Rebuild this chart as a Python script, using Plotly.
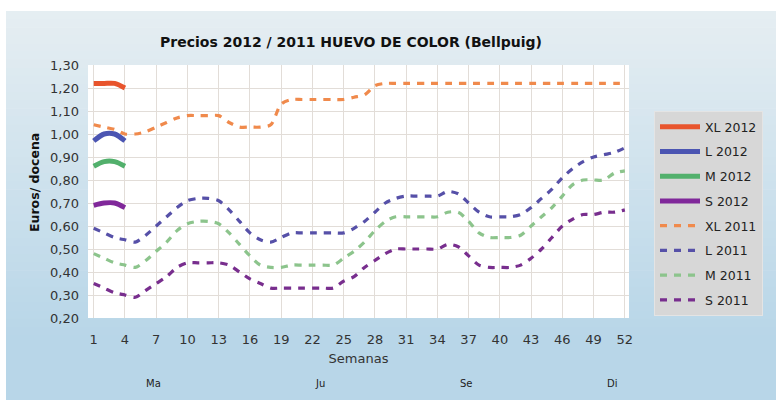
import plotly.graph_objects as go

# ---------------- data ----------------
weeks_2011 = list(range(1, 53))
weeks_2012 = [1, 2, 3, 4]

xl_2012 = [1.22, 1.22, 1.22, 1.20]
l_2012 = [0.97, 1.00, 1.00, 0.97]
m_2012 = [0.86, 0.88, 0.88, 0.86]
s_2012 = [0.69, 0.70, 0.70, 0.68]

xl_2011 = [1.04, 1.03, 1.02, 1.00, 1.00, 1.01, 1.03, 1.05, 1.07, 1.08, 1.08, 1.08, 1.08,
           1.05, 1.03, 1.03, 1.03, 1.04, 1.13, 1.15, 1.15, 1.15, 1.15, 1.15, 1.15, 1.16,
           1.17, 1.21, 1.22, 1.22, 1.22, 1.22, 1.22, 1.22, 1.22, 1.22, 1.22, 1.22, 1.22,
           1.22, 1.22, 1.22, 1.22, 1.22, 1.22, 1.22, 1.22, 1.22, 1.22, 1.22, 1.22, 1.22]
l_2011 = [0.59, 0.57, 0.55, 0.54, 0.53, 0.56, 0.60, 0.64, 0.68, 0.71, 0.72, 0.72, 0.71,
          0.67, 0.62, 0.57, 0.54, 0.53, 0.55, 0.57, 0.57, 0.57, 0.57, 0.57, 0.57, 0.59,
          0.62, 0.66, 0.70, 0.72, 0.73, 0.73, 0.73, 0.73, 0.75, 0.74, 0.70, 0.66, 0.64,
          0.64, 0.64, 0.65, 0.68, 0.72, 0.76, 0.81, 0.85, 0.88, 0.90, 0.91, 0.92, 0.94]
m_2011 = [0.48, 0.46, 0.44, 0.43, 0.42, 0.45, 0.49, 0.53, 0.58, 0.61, 0.62, 0.62, 0.61,
          0.57, 0.52, 0.47, 0.43, 0.42, 0.42, 0.43, 0.43, 0.43, 0.43, 0.43, 0.46, 0.49,
          0.53, 0.58, 0.62, 0.64, 0.64, 0.64, 0.64, 0.64, 0.66, 0.66, 0.62, 0.57, 0.55,
          0.55, 0.55, 0.56, 0.60, 0.64, 0.68, 0.73, 0.78, 0.80, 0.80, 0.80, 0.83, 0.84]
s_2011 = [0.35, 0.33, 0.31, 0.30, 0.29, 0.32, 0.35, 0.38, 0.42, 0.44, 0.44, 0.44, 0.44,
          0.43, 0.40, 0.37, 0.35, 0.33, 0.33, 0.33, 0.33, 0.33, 0.33, 0.33, 0.36, 0.38,
          0.42, 0.45, 0.48, 0.50, 0.50, 0.50, 0.50, 0.50, 0.52, 0.51, 0.47, 0.43, 0.42,
          0.42, 0.42, 0.43, 0.46, 0.50, 0.55, 0.60, 0.63, 0.65, 0.65, 0.66, 0.66, 0.67]

x_ticks = list(range(1, 53, 3))
y_ticks = [0.2, 0.3, 0.4, 0.5, 0.6, 0.7, 0.8, 0.9, 1.0, 1.1, 1.2, 1.3]
months = ["Ma", "Ju", "Se", "Di"]

title_text = "Precios 2012 / 2011 HUEVO DE COLOR (Bellpuig)"
y_title = "Euros/ docena"
x_title = "Semanas"

# ---------------- figure ----------------
FONT = "DejaVu Sans"
fig = go.Figure()

series_2012 = [("XL 2012", xl_2012, "#e8542c"), ("L 2012", l_2012, "#4b55b2"),
               ("M 2012", m_2012, "#52b06c"), ("S 2012", s_2012, "#80289a")]
series_2011 = [("XL 2011", xl_2011, "#f08a4c"), ("L 2011", l_2011, "#5650a8"),
               ("M 2011", m_2011, "#8cc48c"), ("S 2011", s_2011, "#782e8e")]

for name, vals, col in series_2012:
    fig.add_trace(go.Scatter(x=weeks_2012, y=vals, name=name, mode="lines",
                             legendgroup=name,
                             line=dict(color=col, width=5, shape="spline", smoothing=0.8)))
for name, vals, col in series_2011:
    fig.add_trace(go.Scatter(x=weeks_2011, y=vals, name=name, mode="lines",
                             legendgroup=name,
                             line=dict(color=col, width=3.2, dash="7px,7px",
                                       shape="spline", smoothing=0.8)))

W, H = 776, 400
L, T, R, B = 88, 65, 629, 318
pw, ph = R - L, B - T
def px2x(p): return (p - L) / pw
def py2y(p): return (B - p) / ph

c_top = (230, 238, 242)
c_bot = (184, 214, 232)
shapes = []
top_px, grad_end, bot_px = 11, 335, 402
n = 40
for i in range(n):
    y0 = top_px + (grad_end - top_px) * i / n
    y1 = top_px + (grad_end - top_px) * (i + 1) / n + 0.6
    t = (i + 0.5) / n
    c = tuple(round(c_top[k] + (c_bot[k] - c_top[k]) * t) for k in range(3))
    shapes.append(dict(type="rect", xref="paper", yref="paper", layer="below",
                       x0=px2x(6), x1=px2x(W + 4), y0=py2y(y0), y1=py2y(y1),
                       fillcolor="rgb(%d,%d,%d)" % c, line=dict(width=0)))
shapes.append(dict(type="rect", xref="paper", yref="paper", layer="below",
                   x0=px2x(6), x1=px2x(W + 4), y0=py2y(grad_end), y1=py2y(bot_px),
                   fillcolor="rgb(%d,%d,%d)" % c_bot, line=dict(width=0)))
shapes.append(dict(type="rect", xref="paper", yref="paper", layer="below",
                   x0=0, x1=1, y0=0, y1=1, fillcolor="white", line=dict(width=0)))

annotations = [dict(text="<b>%s</b>" % y_title, xref="paper", yref="paper",
                    x=px2x(34), y=py2y(183), textangle=-90, showarrow=False,
                    xanchor="center", yanchor="middle",
                    font=dict(family=FONT, size=12.5, color="#111"))]
month_px = [153, 320, 466, 612]
for m, p in zip(months, month_px):
    annotations.append(dict(text=m, xref="paper", yref="paper", x=px2x(p), y=py2y(383),
                            xanchor="center", yanchor="middle", showarrow=False,
                            font=dict(family=FONT, size=10, color="#222")))

fig.update_layout(
    width=W, height=H,
    margin=dict(l=L, r=W - R, t=T, b=H - B, autoexpand=False),
    paper_bgcolor="white", plot_bgcolor="white",
    separators=", ",
    font=dict(family=FONT, size=13, color="#333"),
    title=dict(text="<b>%s</b>" % title_text, xref="container", yref="container",
               x=351 / W, y=1 - 42 / H, xanchor="center", yanchor="middle",
               font=dict(family=FONT, size=14, color="#111")),
    xaxis=dict(range=[0.45, 52.4], tickvals=x_ticks, showgrid=True, gridcolor="#e2ddd8",
               gridwidth=1, zeroline=False, showline=False, ticks="",
               ticklabelstandoff=12, tickfont=dict(size=13, color="#333"),
               title=dict(text=x_title, standoff=7, font=dict(size=13, color="#333"))),
    yaxis=dict(range=[0.2, 1.3], tickvals=y_ticks, tickformat=".2f", showgrid=True,
               gridcolor="#e2ddd8", gridwidth=1, zeroline=False, showline=False, ticks="",
               ticklabelstandoff=8, tickfont=dict(size=13, color="#333")),
    legend=dict(x=px2x(654), y=py2y(111), xanchor="left", yanchor="top",
                bgcolor="#d7d7d7", bordercolor="#e4e4e4", borderwidth=1,
                tracegroupgap=5.5, font=dict(family=FONT, size=12.5, color="#222"),
                itemwidth=40),
    shapes=shapes, annotations=annotations, showlegend=True,
)

# remove the default 8px page margin so the 776x400 figure fills the window exactly
fig.write_html("out.html",
               config={"displayModeBar": False},
               post_script="document.body.style.margin='0';"
                           "document.body.style.overflow='hidden';")
